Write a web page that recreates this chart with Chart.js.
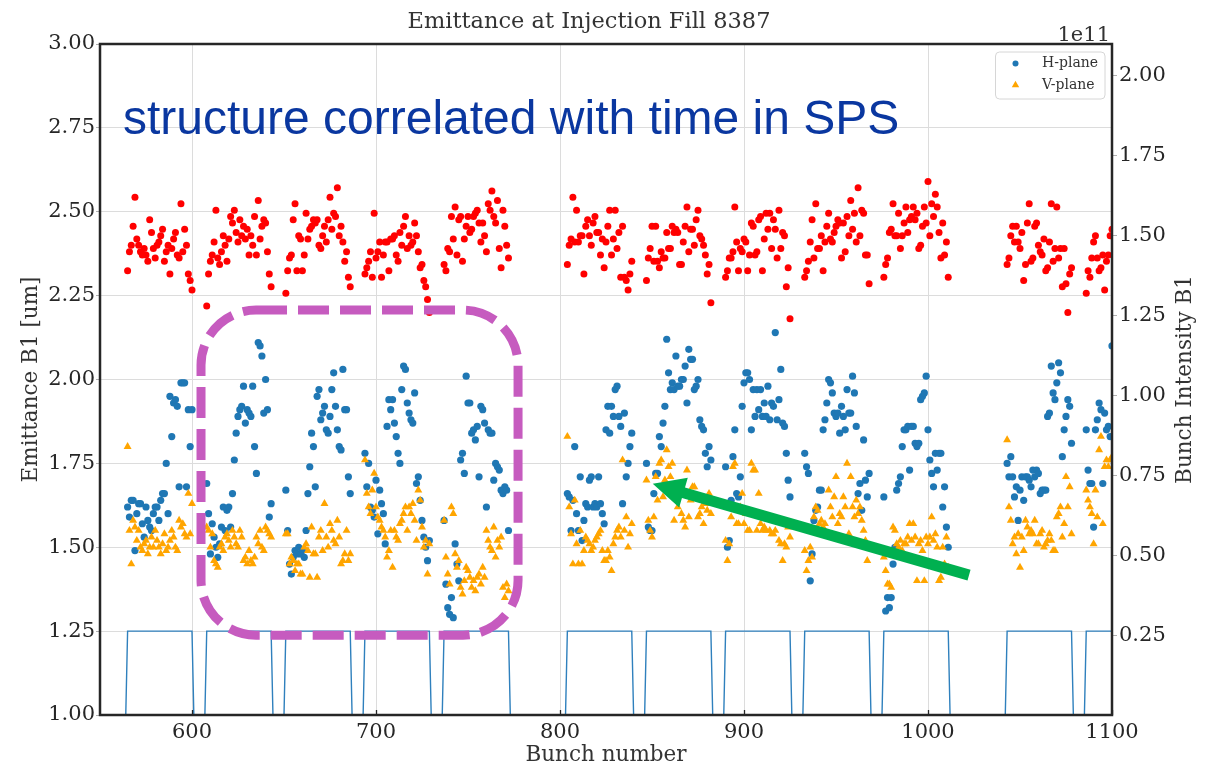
<!DOCTYPE html>
<html>
<head>
<meta charset="utf-8">
<title>Emittance at Injection Fill 8387</title>
<script src="https://cdn.jsdelivr.net/npm/chart.js@4.4.1/dist/chart.umd.min.js"></script>
<style>
  html, body { margin: 0; padding: 0; background: #ffffff; }
  #wrap { width: 1208px; height: 773px; }
</style>
</head>
<body>
<div id="wrap"><canvas id="emittance" width="1208" height="773"></canvas></div>
<script>
// first filled slot of each 36-bunch train (the last one runs past the axis end)
const trainStart = [565, 608, 651, 694, 737, 804, 847, 890, 933, 976, 1043, 1086];
const trainLength = 36;

// horizontal emittance per bunch [um], one row per train
const hPlane = [
  [1.62,1.59,1.64,1.64,1.49,1.60,1.63,1.63,1.57,1.53,1.62,1.58,1.56,1.55,1.60,1.62,1.62,1.58,1.64,1.66,1.66,1.75,1.60,1.95,1.83,1.93,1.94,1.92,1.68,1.99,1.99,1.99,1.68,1.91,1.80,1.91],
  [1.69,1.60,1.48,1.57,1.53,1.50,1.47,1.51,1.56,1.62,1.55,1.61,1.62,1.56,1.66,1.76,1.84,1.89,1.91,1.92,1.98,1.87,1.91,1.90,1.89,1.98,1.80,1.72,2.11,2.10,2.07,1.90,2.00,1.91,1.59,1.63],
  [1.67,1.55,1.45,1.42,1.47,1.49,1.48,1.50,1.48,1.49,1.47,1.55,1.66,1.74,1.84,1.80,1.68,1.95,1.97,1.88,1.90,1.92,1.85,1.84,1.89,1.97,2.02,1.92,1.85,1.80,1.79,2.03,1.91,1.91,1.71,1.66],
  [1.78,1.68,1.75,1.62,1.61,1.59,1.70,1.54,1.67,1.63,1.60,1.51,1.86,1.94,1.91,1.94,1.87,1.83,1.78,1.75,1.97,2.04,2.03,1.93,1.90,1.88,1.87,1.96,1.69,1.71,1.64,1.58,1.53,1.50,1.46,1.52],
  [1.58,1.39,1.32,1.30,1.35,1.29,1.51,1.45,1.40,1.76,1.78,1.72,2.01,1.93,1.93,1.84,1.85,1.82,1.86,1.71,1.92,1.91,1.87,1.62,1.85,1.84,1.84,1.70,1.75,1.74,1.73,1.67,1.66,1.68,1.67,1.55],
  [1.66,1.65,1.55,1.64,1.80,1.60,1.55,1.71,1.52,1.58,1.63,1.62,1.70,1.71,1.62,1.63,1.62,1.71,1.63,1.60,1.57,1.85,1.92,1.84,1.92,1.89,1.97,1.98,1.89,1.86,1.63,1.90,1.71,1.75,1.80,1.84],
  [1.75,1.56,1.55,1.55,1.66,1.72,1.72,1.83,1.80,1.87,1.92,2.12,2.02,1.97,1.99,1.97,2.07,1.98,1.98,2.00,2.00,2.04,1.93,2.09,2.06,2.06,1.97,1.98,2.00,1.88,1.86,1.85,1.78,1.74,1.80,1.76],
  [1.74,1.50,1.52,1.64,1.77,1.85,1.66,1.65,1.71,1.92,1.99,2.02,2.02,2.00,1.85,1.97,1.89,1.97,1.91,1.97,1.89,1.93,1.89,1.98,1.88,1.93,1.92,2.14,1.88,1.94,2.03,1.87,1.86,1.78,1.70,1.65],
  [1.78,1.74,1.72,1.40,1.48,1.58,1.61,1.62,1.67,1.67,1.85,1.88,1.93,2.00,1.99,1.96,1.90,1.89,1.90,1.84,1.92,1.89,1.85,1.97,1.90,1.90,2.01,1.96,1.86,1.66,1.69,1.61,1.82,1.70,1.65,1.72],
  [1.65,1.31,1.35,1.32,1.35,1.45,1.50,1.67,1.69,1.71,1.80,1.85,1.85,1.86,1.73,1.86,1.86,1.81,1.80,1.81,1.94,1.95,1.96,2.01,1.85,1.76,1.72,1.68,1.78,1.73,1.78,1.78,1.62,1.68,1.56,1.50],
  [1.75,1.71,1.77,1.71,1.65,1.68,1.58,1.67,1.71,1.64,1.71,1.71,1.70,1.68,1.73,1.71,1.73,1.72,1.66,1.67,1.67,1.67,1.89,1.90,2.04,1.96,1.94,1.99,2.05,2.02,1.77,1.85,1.89,1.94,1.92,1.81],
  [1.85,1.73,1.69,1.69,1.56,1.85,1.88,1.93,1.91,1.69,1.90,1.85,1.86,1.83,2.10]
];

// vertical emittance per bunch [um]
const vPlane = [
  [1.80,1.55,1.45,1.58,1.56,1.52,1.55,1.50,1.49,1.51,1.52,1.48,1.50,1.53,1.50,1.55,1.52,1.50,1.48,1.51,1.54,1.49,1.50,1.52,1.55,1.53,1.50,1.49,1.58,1.56,1.57,1.54,1.53,1.66,1.54,1.63],
  [1.56,1.55,1.50,1.54,1.46,1.45,1.44,1.50,1.51,1.49,1.53,1.54,1.52,1.50,1.55,1.53,1.51,1.50,1.55,1.53,1.46,1.47,1.45,1.49,1.46,1.45,1.47,1.53,1.51,1.55,1.50,1.49,1.56,1.55,1.54,1.53],
  [1.54,1.54,1.45,1.47,1.46,1.43,1.45,1.45,1.42,1.42,1.50,1.51,1.49,1.41,1.56,1.48,1.48,1.41,1.53,1.55,1.49,1.63,1.53,1.50,1.57,1.55,1.52,1.51,1.58,1.53,1.45,1.46,1.48,1.55,1.46,1.48],
  [1.76,1.66,1.62,1.60,1.67,1.72,1.62,1.59,1.58,1.56,1.55,1.53,1.47,1.49,1.55,1.44,1.55,1.53,1.52,1.57,1.58,1.60,1.62,1.55,1.62,1.60,1.63,1.58,1.52,1.67,1.64,1.56,1.50,1.52,1.42,1.51],
  [1.58,1.47,1.42,1.39,1.62,1.60,1.48,1.44,1.46,1.38,1.36,1.40,1.44,1.43,1.41,1.38,1.40,1.37,1.41,1.42,1.39,1.44,1.41,1.55,1.52,1.50,1.49,1.56,1.47,1.52,1.50,1.53,1.38,1.35,1.39,1.37],
  [1.83,1.62,1.54,1.45,1.64,1.51,1.45,1.55,1.45,1.49,1.53,1.52,1.51,1.49,1.50,1.52,1.53,1.54,1.55,1.49,1.46,1.46,1.49,1.47,1.43,1.51,1.53,1.55,1.56,1.53,1.76,1.55,1.59,1.50,1.54,1.57],
  [1.70,1.58,1.55,1.53,1.59,1.71,1.64,1.75,1.76,1.65,1.70,1.79,1.74,1.71,1.75,1.58,1.67,1.62,1.68,1.60,1.58,1.56,1.73,1.59,1.64,1.68,1.68,1.65,1.59,1.60,1.62,1.57,1.63,1.61,1.66,1.60],
  [1.52,1.46,1.51,1.59,1.74,1.75,1.57,1.57,1.62,1.66,1.57,1.60,1.55,1.55,1.75,1.73,1.73,1.55,1.66,1.57,1.55,1.56,1.55,1.59,1.55,1.54,1.54,1.55,1.58,1.52,1.51,1.46,1.51,1.50,1.56,1.53],
  [1.49,1.43,1.46,1.50,1.47,1.59,1.62,1.61,1.57,1.58,1.56,1.57,1.54,1.67,1.62,1.59,1.65,1.71,1.57,1.60,1.59,1.65,1.62,1.75,1.54,1.71,1.62,1.59,1.64,1.60,1.62,1.58,1.55,1.52,1.46,1.50],
  [1.47,1.43,1.39,1.39,1.38,1.56,1.55,1.51,1.50,1.52,1.49,1.51,1.51,1.53,1.57,1.52,1.57,1.53,1.40,1.51,1.52,1.49,1.40,1.53,1.51,1.53,1.59,1.52,1.54,1.50,1.40,1.41,1.50,1.45,1.53,1.44],
  [1.82,1.62,1.58,1.51,1.53,1.48,1.54,1.44,1.53,1.49,1.58,1.56,1.54,1.55,1.54,1.58,1.51,1.51,1.54,1.55,1.50,1.51,1.52,1.54,1.52,1.49,1.49,1.59,1.60,1.62,1.53,1.57,1.71,1.62,1.68,1.54],
  [1.67,1.64,1.62,1.60,1.51,1.67,1.59,1.79,1.83,1.57,1.74,1.76,1.74,1.76,1.77]
];

// bunch intensity per bunch [1e11 p]
const intensity = [
  [1.39,1.45,1.47,1.53,1.62,1.49,1.47,1.45,1.44,1.46,1.44,1.42,1.55,1.51,1.46,1.43,1.47,1.48,1.50,1.52,1.42,1.45,1.47,1.38,1.46,1.49,1.51,1.44,1.43,1.60,1.45,1.52,1.47,1.38,1.36,1.33],
  [1.28,1.38,1.42,1.44,1.48,1.58,1.43,1.41,1.45,1.50,1.47,1.42,1.49,1.56,1.54,1.58,1.51,1.48,1.55,1.50,1.53,1.49,1.52,1.44,1.50,1.47,1.56,1.44,1.61,1.49,1.53,1.55,1.54,1.45,1.38,1.34],
  [1.32,1.39,1.43,1.44,1.55,1.60,1.39,1.50,1.49,1.39,1.44,1.57,1.49,1.52,1.53,1.55,1.54,1.55,1.47,1.46,1.50,1.53,1.48,1.55,1.62,1.52,1.57,1.56,1.65,1.50,1.53,1.48,1.42,1.45,1.37,1.34],
  [1.38,1.40,1.42,1.45,1.37,1.57,1.43,1.45,1.48,1.37,1.44,1.48,1.48,1.39,1.49,1.49,1.50,1.44,1.42,1.51,1.47,1.53,1.56,1.46,1.50,1.47,1.48,1.54,1.50,1.45,1.40,1.41,1.36,1.34,1.30,1.26],
  [1.41,1.39,1.46,1.45,1.56,1.49,1.59,1.44,1.55,1.56,1.42,1.49,1.53,1.56,1.51,1.52,1.56,1.57,1.58,1.54,1.48,1.54,1.50,1.45,1.60,1.58,1.64,1.56,1.54,1.61,1.46,1.40,1.58,1.53,1.47,1.43],
  [1.41,1.47,1.49,1.62,1.48,1.58,1.48,1.50,1.50,1.38,1.53,1.55,1.50,1.47,1.54,1.56,1.51,1.51,1.44,1.49,1.40,1.48,1.53,1.58,1.44,1.49,1.58,1.46,1.51,1.37,1.53,1.37,1.36,1.33,1.38,1.42],
  [1.36,1.43,1.46,1.53,1.42,1.53,1.42,1.40,1.45,1.43,1.43,1.51,1.46,1.46,1.53,1.51,1.52,1.51,1.41,1.41,1.48,1.53,1.59,1.45,1.52,1.52,1.47,1.55,1.58,1.50,1.49,1.47,1.44,1.38,1.41,1.29],
  [1.37,1.39,1.43,1.43,1.45,1.59,1.48,1.39,1.46,1.45,1.49,1.48,1.39,1.44,1.54,1.53,1.44,1.45,1.55,1.56,1.39,1.49,1.57,1.52,1.57,1.46,1.55,1.52,1.43,1.58,1.46,1.51,1.50,1.34,1.40,1.24],
  [1.37,1.39,1.42,1.48,1.55,1.43,1.60,1.46,1.46,1.50,1.39,1.48,1.53,1.57,1.49,1.48,1.51,1.53,1.55,1.54,1.43,1.54,1.45,1.56,1.50,1.61,1.52,1.57,1.48,1.65,1.50,1.58,1.57,1.44,1.44,1.35],
  [1.37,1.41,1.43,1.51,1.52,1.60,1.50,1.50,1.57,1.46,1.50,1.54,1.59,1.51,1.55,1.56,1.59,1.55,1.57,1.46,1.47,1.53,1.59,1.54,1.67,1.50,1.60,1.56,1.63,1.59,1.51,1.43,1.54,1.44,1.48,1.37],
  [1.41,1.43,1.50,1.53,1.48,1.53,1.48,1.46,1.51,1.36,1.41,1.54,1.60,1.42,1.43,1.53,1.54,1.47,1.45,1.44,1.49,1.39,1.40,1.48,1.60,1.42,1.46,1.59,1.43,1.46,1.34,1.46,1.35,1.26,1.38,1.40],
  [1.32,1.39,1.37,1.43,1.48,1.50,1.43,1.39,1.40,1.44,1.33,1.42,1.44,1.50,1.52]
];

// filling pattern levels drawn on the emittance axis
const patternEmpty = 1.00;
const patternFilled = 1.25;

// tick labels
const xTicks = [600, 700, 800, 900, 1000, 1100];
const leftTicks = [1.00, 1.25, 1.50, 1.75, 2.00, 2.25, 2.50, 2.75, 3.00];
const rightTicks = [0.25, 0.50, 0.75, 1.00, 1.25, 1.50, 1.75, 2.00];

// hand-drawn style notes, placed in data units
const note = { text: 'structure correlated with time in SPS', x: 562.5, y: 2.732 };
const highlight = { x0: 604.9, x1: 777.2, y0: 2.207, y1: 1.238 };
const pointer = { from: [1022.3, 1.417], to: [850.4, 1.689] };

const SERIF = '"DejaVu Serif", serif';
const TEXT = '#333333';

function perBunch(rows) {
  const out = [];
  rows.forEach((row, t) => row.forEach((v, i) => out.push({ x: trainStart[t] + i, y: v })));
  return out;
}

function fillingPattern() {
  const pts = [];
  trainStart.forEach(s => {
    const e = s + trainLength - 1;
    pts.push({ x: s - 1, y: patternEmpty }, { x: s, y: patternFilled },
             { x: e, y: patternFilled }, { x: e + 1, y: patternEmpty });
  });
  return pts;
}

function roundedPath(ctx, l, t, r, b, rad) {
  ctx.beginPath();
  ctx.moveTo(l + rad, t);
  ctx.lineTo(r - rad, t);
  ctx.arcTo(r, t, r, t + rad, rad);
  ctx.lineTo(r, b - rad);
  ctx.arcTo(r, b, r - rad, b, rad);
  ctx.lineTo(l + rad, b);
  ctx.arcTo(l, b, l, b - rad, rad);
  ctx.lineTo(l, t + rad);
  ctx.arcTo(l, t, l + rad, t, rad);
  ctx.closePath();
}

const decorations = {
  id: 'decorations',
  afterDatasetsDraw(chart) {
    const { ctx, chartArea: a, scales } = chart;
    ctx.save();
    // small inward ticks on the bunch axis
    ctx.strokeStyle = '#262626';
    ctx.lineWidth = 1.3;
    xTicks.forEach(v => {
      const px = Math.round(scales.x.getPixelForValue(v)) + 0.5;
      ctx.beginPath();
      ctx.moveTo(px, a.bottom);
      ctx.lineTo(px, a.bottom - 5);
      ctx.stroke();
    });
    // axes frame
    ctx.lineWidth = 2.5;
    ctx.strokeRect(a.left, a.top, a.right - a.left, a.bottom - a.top);
    ctx.restore();
  },
  afterDraw(chart) {
    const { ctx, chartArea: a, scales } = chart;
    const X = v => scales.x.getPixelForValue(v);
    const Y = v => scales.y.getPixelForValue(v);
    ctx.save();

    // title
    ctx.fillStyle = TEXT;
    ctx.font = '22.5px ' + SERIF;
    ctx.textAlign = 'center';
    ctx.textBaseline = 'alphabetic';
    ctx.fillText('Emittance at Injection Fill 8387', 589, 28);

    // offset text of the intensity axis
    ctx.font = '21px ' + SERIF;
    ctx.textAlign = 'right';
    ctx.fillText('1e11', a.right - 2, 41);

    // right axis title, reading upwards
    ctx.save();
    ctx.translate(1185, (a.top + a.bottom) / 2);
    ctx.rotate(-Math.PI / 2);
    ctx.textAlign = 'center';
    ctx.textBaseline = 'middle';
    ctx.font = '21.5px ' + SERIF;
    ctx.fillText('Bunch Intensity B1', 0, 0);
    ctx.restore();

    // legend
    const lx = a.right - 116.5, ly = a.top + 8, lw = 109.5, lh = 47;
    roundedPath(ctx, lx, ly, lx + lw, ly + lh, 4);
    ctx.fillStyle = 'rgba(255,255,255,0.85)';
    ctx.fill();
    ctx.strokeStyle = '#d6d6d6';
    ctx.lineWidth = 1;
    ctx.stroke();
    const entries = chart.data.datasets.slice(0, 2);
    entries.forEach((ds, k) => {
      const cy = ly + 11.5 + k * 21.5;
      const cx = lx + 20;
      ctx.fillStyle = ds.pointBackgroundColor;
      ctx.beginPath();
      if (ds.pointStyle === 'triangle') {
        ctx.moveTo(cx, cy - 4.2);
        ctx.lineTo(cx + 3.7, cy + 2.3);
        ctx.lineTo(cx - 3.7, cy + 2.3);
        ctx.closePath();
      } else {
        ctx.arc(cx, cy, 3, 0, Math.PI * 2);
      }
      ctx.fill();
      ctx.fillStyle = TEXT;
      ctx.font = '14px ' + SERIF;
      ctx.textAlign = 'left';
      ctx.textBaseline = 'middle';
      ctx.fillText(ds.label, lx + 46.5, cy);
    });

    // blue note
    ctx.fillStyle = '#0a37a0';
    ctx.font = '48px "Liberation Sans", Arial, sans-serif';
    ctx.textAlign = 'left';
    ctx.textBaseline = 'alphabetic';
    ctx.fillText(note.text, X(note.x), Y(note.y));

    // dashed magenta frame around the first trains
    ctx.strokeStyle = '#c65bbf';
    ctx.lineWidth = 9;
    ctx.setLineDash([31, 11]);
    roundedPath(ctx, X(highlight.x0), Y(highlight.y0), X(highlight.x1), Y(highlight.y1), 55);
    ctx.stroke();
    ctx.setLineDash([]);

    // green arrow
    const tx = X(pointer.from[0]), ty = Y(pointer.from[1]);
    const hx = X(pointer.to[0]), hy = Y(pointer.to[1]);
    const len = Math.hypot(hx - tx, hy - ty);
    const ux = (hx - tx) / len, uy = (hy - ty) / len;
    const nx = -uy, ny = ux;
    const shaft = 5.5, headLen = 32, headHalf = 15.5;
    const bx = hx - ux * headLen, by = hy - uy * headLen;
    ctx.fillStyle = '#00b050';
    ctx.beginPath();
    ctx.moveTo(tx + nx * shaft, ty + ny * shaft);
    ctx.lineTo(bx + nx * shaft, by + ny * shaft);
    ctx.lineTo(bx + nx * headHalf, by + ny * headHalf);
    ctx.lineTo(hx, hy);
    ctx.lineTo(bx - nx * headHalf, by - ny * headHalf);
    ctx.lineTo(bx - nx * shaft, by - ny * shaft);
    ctx.lineTo(tx - nx * shaft, ty - ny * shaft);
    ctx.closePath();
    ctx.fill();

    ctx.restore();
  }
};

new Chart(document.getElementById('emittance'), {
  type: 'scatter',
  data: {
    datasets: [
      {
        label: 'H-plane',
        data: perBunch(hPlane),
        yAxisID: 'y',
        pointStyle: 'circle',
        pointRadius: 3.6,
        pointBackgroundColor: '#1f77b4',
        pointBorderWidth: 0,
        order: 2
      },
      {
        label: 'V-plane',
        data: perBunch(vPlane),
        yAxisID: 'y',
        pointStyle: 'triangle',
        pointRadius: 4.6,
        pointBackgroundColor: '#ffa500',
        pointBorderWidth: 0,
        order: 1
      },
      {
        label: 'Intensity',
        data: perBunch(intensity),
        yAxisID: 'y2',
        pointStyle: 'circle',
        pointRadius: 3.5,
        pointBackgroundColor: '#ff0000',
        pointBorderWidth: 0,
        order: 0
      },
      {
        label: 'Filling',
        data: fillingPattern(),
        yAxisID: 'y',
        showLine: true,
        borderColor: '#2f80bd',
        borderWidth: 1.4,
        pointRadius: 0,
        fill: false,
        tension: 0,
        order: 3
      }
    ]
  },
  options: {
    responsive: false,
    animation: false,
    devicePixelRatio: 1,
    layout: { padding: { top: 44, left: 0, right: 0, bottom: 0 } },
    plugins: {
      legend: { display: false },
      title: { display: false },
      tooltip: { enabled: false }
    },
    scales: {
      x: {
        type: 'linear',
        min: 550,
        max: 1100,
        afterBuildTicks: s => { s.ticks = xTicks.map(v => ({ value: v })); },
        afterFit: s => { s.height = 58; },
        grid: { color: '#dcdcdc', lineWidth: 1, drawTicks: false },
        border: { display: false },
        ticks: {
          padding: 5,
          color: '#262626',
          font: { family: SERIF, size: 21 },
          maxRotation: 0,
          callback: v => String(v)
        },
        title: {
          display: true,
          text: 'Bunch number',
          color: TEXT,
          font: { family: SERIF, size: 21.5 },
          padding: { top: 0, bottom: 5 }
        }
      },
      y: {
        position: 'left',
        min: 1,
        max: 3,
        afterBuildTicks: s => { s.ticks = leftTicks.map(v => ({ value: v })); },
        afterFit: s => { s.width = 100; },
        grid: { color: '#dcdcdc', lineWidth: 1, drawTicks: true, tickLength: 4, tickColor: '#b0b0b0' },
        border: { display: false },
        ticks: {
          padding: 1,
          color: '#262626',
          font: { family: SERIF, size: 21 },
          callback: v => v.toFixed(2)
        },
        title: {
          display: true,
          text: 'Emittance B1 [um]',
          color: TEXT,
          font: { family: SERIF, size: 21.5 },
          padding: { top: 19, bottom: 0 }
        }
      },
      y2: {
        position: 'right',
        min: 0,
        max: 2.1,
        afterBuildTicks: s => { s.ticks = rightTicks.map(v => ({ value: v })); },
        afterFit: s => { s.width = 96; },
        grid: { drawOnChartArea: false, drawTicks: true, tickLength: 5, tickColor: '#b0b0b0' },
        border: { display: false },
        ticks: {
          padding: 2,
          color: '#262626',
          font: { family: SERIF, size: 21 },
          callback: v => v.toFixed(2)
        }
      }
    }
  },
  plugins: [decorations]
});
</script>
</body>
</html>
